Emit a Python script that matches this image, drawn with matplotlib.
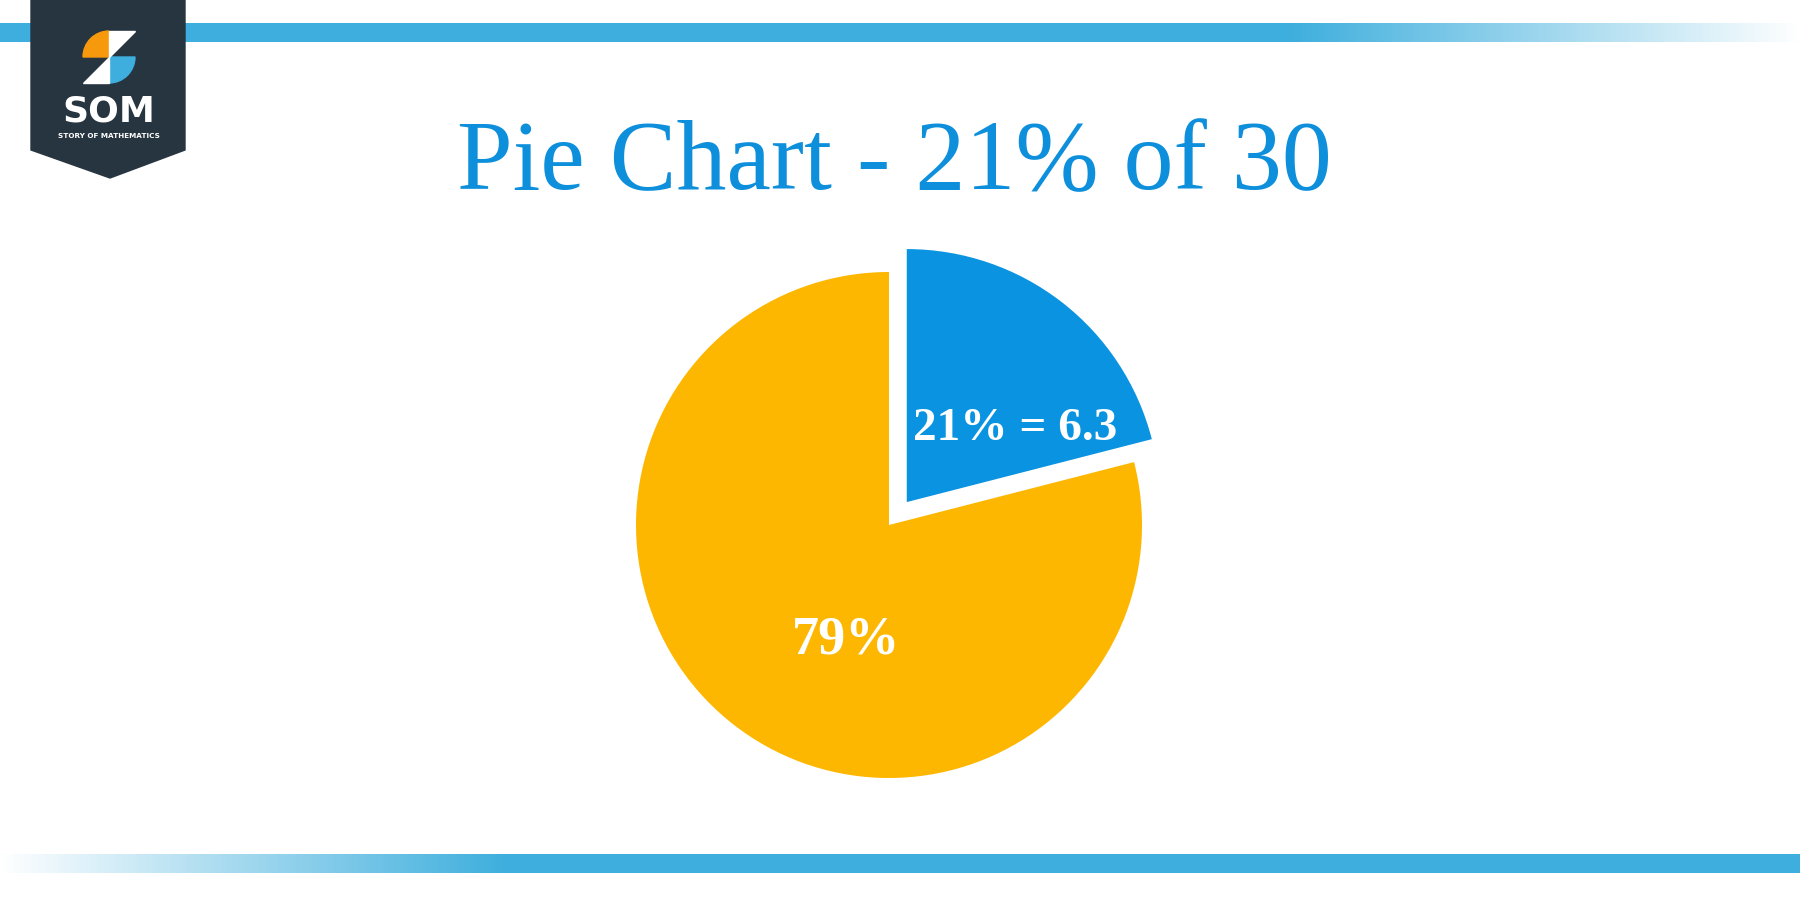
import matplotlib.pyplot as plt
import numpy as np
from matplotlib import font_manager
from matplotlib.patches import Polygon, Wedge

# data
values = [21, 79]
slice_colors = ["#0a93e0", "#fdb700"]
slice_labels = ["21% = 6.3", "79%"]
title_text = "Pie Chart - 21% of 30"


def font_file(stem, fallback_family, weight="normal"):
    # pick a font straight from its file, fall back to a family name
    for f in font_manager.findSystemFonts():
        if f.endswith(stem):
            return font_manager.FontProperties(fname=f)
    return font_manager.FontProperties(family=fallback_family, weight=weight)


fp_reg = font_file("LiberationSerif-Regular.ttf", "DejaVu Serif")
fp_bold = font_file("LiberationSerif-Bold.ttf", "DejaVu Serif", "bold")
fp_logo = font_file("Montserrat-Bold.ttf", "DejaVu Sans", "bold")

W, H = 1800, 900
fig = plt.figure(figsize=(18, 9), dpi=100)
ax = fig.add_axes([0, 0, 1, 1])

# pie (y counted from bottom)
wedges, _ = ax.pie(values, colors=slice_colors, startangle=90, counterclock=False,
                   explode=[29, 0], center=(889, 375), radius=253,
                   wedgeprops=dict(linewidth=0))

ax.set_xlim(0, W)
ax.set_ylim(0, H)
ax.set_aspect("auto")
ax.axis("off")

# labels on the slices
ax.text(913, 460, slice_labels[0], color="white", fontproperties=fp_bold,
        fontsize=34, ha="left", va="baseline")
ax.text(792, 247, slice_labels[1], color="white", fontproperties=fp_bold,
        fontsize=39, ha="left", va="baseline")

# title
ax.text(894, 711, title_text, color="#0e8fdc", fontproperties=fp_reg,
        fontsize=72, ha="center", va="baseline")

# top and bottom bars with gradient fade
bar_col = np.array([0x3d, 0xae, 0xdd]) / 255
xs = np.linspace(0, W, 900)
top_a = np.clip((1800 - xs) / (1800 - 1290), 0, 1)
bot_a = np.clip(xs / 505, 0, 1)
for alpha, (y0, y1) in [(top_a, (H - 42, H - 23)), (bot_a, (H - 873, H - 854))]:
    img = np.ones((1, len(xs), 4))
    img[0, :, :3] = bar_col
    img[0, :, 3] = alpha
    ax.imshow(img, extent=(0, W, y0, y1), aspect="auto", zorder=1)
ax.set_xlim(0, W)
ax.set_ylim(0, H)

# logo
dark = "#263540"
ax.add_patch(Polygon([(31, H), (185, H), (185, H - 150), (110, H - 178), (31, H - 150)],
                     closed=True, color=dark, zorder=3))
cx, cy, r = 109, H - 57, 26
ax.add_patch(Wedge((cx, cy), r, 90, 180, color="#f7990c", zorder=4))
ax.add_patch(Wedge((cx, cy), r, 270, 360, color="#3daedd", zorder=4))
ax.add_patch(Polygon([(cx, cy), (cx, cy + r), (cx + r, cy + r)], color="white", zorder=4))
ax.add_patch(Polygon([(cx, cy), (cx, cy - r), (cx - r, cy - r)], color="white", zorder=4))
ax.text(109, H - 112, "SOM", color="white", fontsize=26,
        fontproperties=fp_logo, ha="center", va="center", zorder=5)
ax.text(109, H - 136, "STORY OF MATHEMATICS", color="white", fontsize=5.2,
        fontproperties=fp_logo, ha="center", va="center", zorder=5)

fig.savefig("out.png", dpi=100)
